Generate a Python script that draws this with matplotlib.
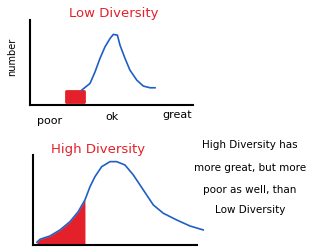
import matplotlib
matplotlib.use("Agg")
import matplotlib.pyplot as plt

# curva "low diversity" (calidad vs numero)
low_x = [3.17, 3.68, 3.99, 4.29, 4.60, 4.91, 5.11, 5.36, 5.52, 5.83, 6.13, 6.55, 6.95, 7.36, 7.67]
low_y = [1.76, 2.55, 3.92, 5.49, 6.86, 7.85, 8.32, 8.24, 7.06, 5.49, 4.12, 2.94, 2.24, 2.04, 2.04]
# bloque rojo de "poor" en el panel de arriba
low_poor_x = [2.2, 3.3]
low_poor_y = [0.4, 1.6]

# curva "high diversity"
high_x = [0.24, 0.43, 1.04, 1.65, 2.26, 2.76, 3.17, 3.48, 3.78, 4.19, 4.70, 5.10, 5.61,
          6.12, 6.73, 7.34, 7.95, 8.76, 9.57, 10.38]
high_y = [0.3, 0.63, 1.0, 1.67, 2.59, 3.7, 5.0, 6.48, 7.59, 8.7, 9.26, 9.26, 8.89,
          7.78, 6.11, 4.44, 3.52, 2.78, 2.11, 1.67]
high_poor_n = 7  # puntos rellenos en rojo

tick_labels = ["poor", "ok", "great"]
note_lines = ["High Diversity has", "more great, but more", "poor as well, than", "Low Diversity"]

blue = "#1f5fc4"
red = "#e4202a"

fig = plt.figure(figsize=(3.2, 2.52), dpi=100)
fig.patch.set_facecolor("white")

def sketch_axes(rect):
    ax = fig.add_axes(rect)
    ax.set_xlim(0, 10)
    ax.set_ylim(0, 10)
    for s in ["top", "right"]:
        ax.spines[s].set_visible(False)
    for s in ["left", "bottom"]:
        ax.spines[s].set_linewidth(1.5)
        ax.spines[s].set_color("black")
    ax.set_xticks([])
    ax.set_yticks([])
    ax.patch.set_alpha(0)
    return ax

# panel de arriba
ax1 = sketch_axes([0.094, 0.583, 0.509, 0.337])
ax1.plot(low_x, low_y, color=blue, linewidth=1.2, solid_joinstyle="round")
ax1.bar((low_poor_x[0] + low_poor_x[1]) / 2, low_poor_y[1] - low_poor_y[0],
        width=low_poor_x[1] - low_poor_x[0], bottom=low_poor_y[0],
        color=red, edgecolor=red, linewidth=2, joinstyle="round")

# panel de abajo
ax2 = sketch_axes([0.103, 0.028, 0.5125, 0.357])
ax2.plot(high_x, high_y, color=blue, linewidth=1.2, clip_on=False, solid_joinstyle="round")
ax2.fill_between(high_x[:high_poor_n], 0, high_y[:high_poor_n], color=red, linewidth=0)

# textos
fig.text(0.357, 0.948, "Low Diversity", color=red, fontsize=9.5, ha="center", va="center")
fig.text(0.306, 0.405, "High Diversity", color=red, fontsize=9.5, ha="center", va="center")
fig.text(0.0375, 0.774, "number", fontsize=7, rotation=90, ha="center", va="center")
for lab, xx, yy in zip(tick_labels, [0.156, 0.35, 0.553], [0.52, 0.536, 0.544]):
    fig.text(xx, yy, lab, fontsize=8, ha="center", va="center")
for line, yy in zip(note_lines, [0.425, 0.333, 0.246, 0.167]):
    fig.text(0.781, yy, line, fontsize=7.5, ha="center", va="center")

fig.savefig("out.png", dpi=100)
